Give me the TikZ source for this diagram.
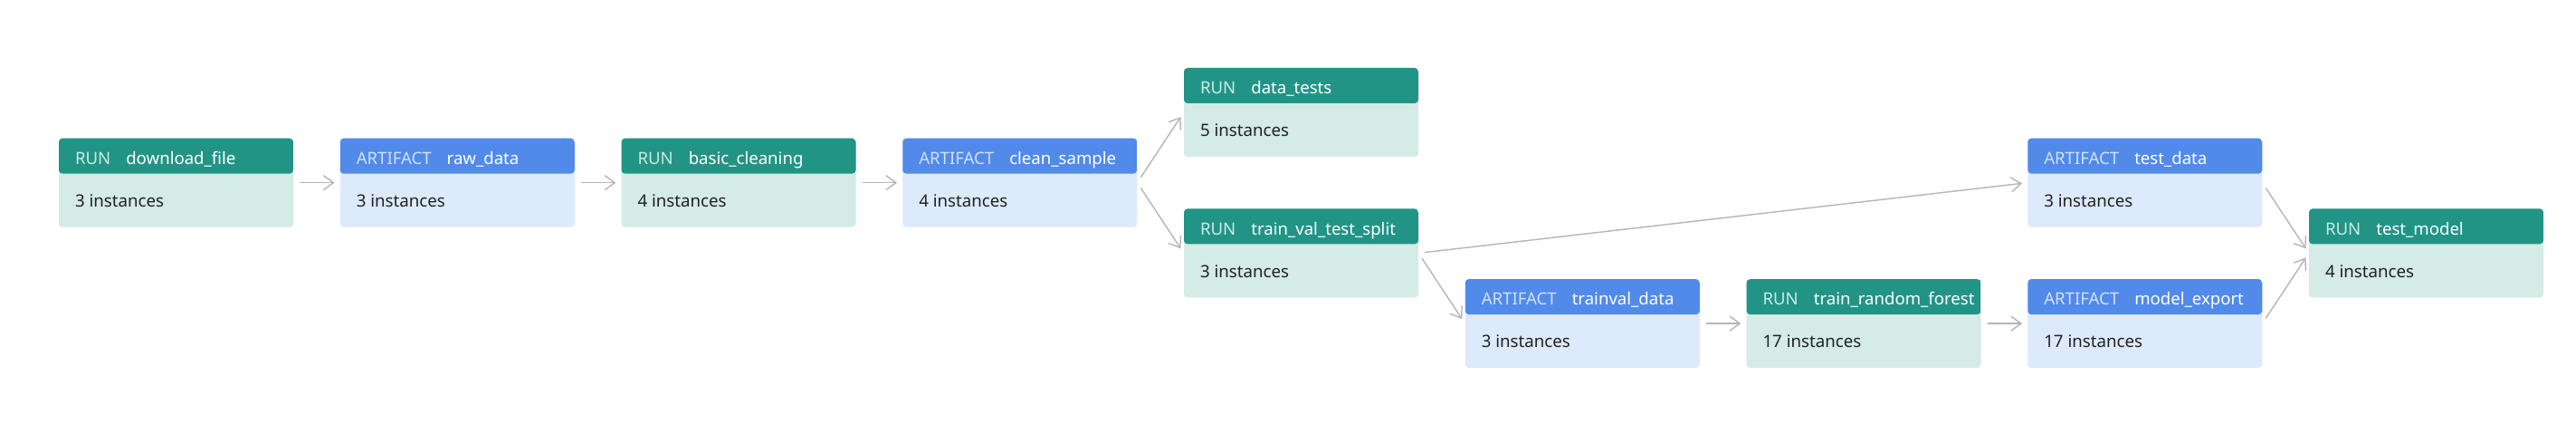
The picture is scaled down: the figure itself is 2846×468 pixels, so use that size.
\documentclass[tikz,border=0pt]{standalone}
\usepackage{fontspec}
\setmainfont{Noto Sans}
\usetikzlibrary{arrows.meta}
\definecolor{runhead}{RGB}{34,148,134}
\definecolor{runbody}{RGB}{212,235,230}
\definecolor{runlbl}{RGB}{200,236,229}
\definecolor{arthead}{RGB}{82,138,234}
\definecolor{artbody}{RGB}{221,234,251}
\definecolor{artlbl}{RGB}{208,225,250}
\definecolor{edgegray}{RGB}{180,180,188}
\definecolor{bodytext}{RGB}{34,34,34}
\tikzset{
  box/.style={minimum width=259pt, minimum height=98pt, inner sep=0pt, rounded corners=4pt, draw=none},
  runbox/.style={box, fill=runbody, path picture={\fill[runhead] (path picture bounding box.north west) rectangle ([yshift=-39pt]path picture bounding box.north east);}},
  artbox/.style={box, fill=artbody, path picture={\fill[arthead] (path picture bounding box.north west) rectangle ([yshift=-39pt]path picture bounding box.north east);}},
  hdtext/.style={anchor=base west, inner sep=0pt, font=\fontsize{18.6pt}{22pt}\selectfont},
  bdtext/.style={anchor=base west, inner sep=0pt, text=bodytext, font=\fontsize{18.7pt}{22pt}\selectfont},
  edge/.style={draw=edgegray, line width=1.4pt, shorten <=7pt, shorten >=6pt, -{Straight Barb[length=11pt,width=16pt]}}
}
% #1 name, #2 run/art, #3 col, #4 row, #5 label, #6 title, #7 body
\newcommand{\pipebox}[7]{%
  \node[#2box] (#1) at ({194.5+310.75*#3},{124+77.7*#4}) {};
  \node[hdtext] (#1-h) at ([xshift=18pt,yshift=-29pt]#1.north west) {\textcolor{#2lbl}{#5}\hspace{17pt}\textcolor{white}{#6}};
  \node[bdtext] (#1-b) at ([xshift=18pt,yshift=-76pt]#1.north west) {#7};
}
\begin{document}
\begin{tikzpicture}[x=1pt,y=-1pt]
\useasboundingbox[fill=white] (0,0) rectangle (2846,468);
\pipebox{df}{run}{0}{1}{RUN}{download\_file}{3 instances}
\pipebox{rd}{art}{1}{1}{ARTIFACT}{raw\_data}{3 instances}
\pipebox{bc}{run}{2}{1}{RUN}{basic\_cleaning}{4 instances}
\pipebox{cs}{art}{3}{1}{ARTIFACT}{clean\_sample}{4 instances}
\pipebox{dt}{run}{4}{0}{RUN}{data\_tests}{5 instances}
\pipebox{tv}{run}{4}{2}{RUN}{train\_val\_test\_split}{3 instances}
\pipebox{td}{art}{5}{3}{ARTIFACT}{trainval\_data}{3 instances}
\pipebox{rf}{run}{6}{3}{RUN}{train\_random\_forest}{17 instances}
\pipebox{me}{art}{7}{3}{ARTIFACT}{model\_export}{17 instances}
\pipebox{ts}{art}{7}{1}{ARTIFACT}{test\_data}{3 instances}
\pipebox{tm}{run}{8}{2}{RUN}{test\_model}{4 instances}
\draw[edge] (df.east) -- (rd.west);
\draw[edge] (rd.east) -- (bc.west);
\draw[edge] (bc.east) -- (cs.west);
\draw[edge] (cs.east) -- (dt.west);
\draw[edge] (cs.east) -- (tv.west);
\draw[edge] (tv.east) -- (ts.west);
\draw[edge] (tv.east) -- (td.west);
\draw[edge] (td.east) -- (rf.west);
\draw[edge] (rf.east) -- (me.west);
\draw[edge] (ts.east) -- (tm.west);
\draw[edge] (me.east) -- (tm.west);
\end{tikzpicture}
\end{document}
